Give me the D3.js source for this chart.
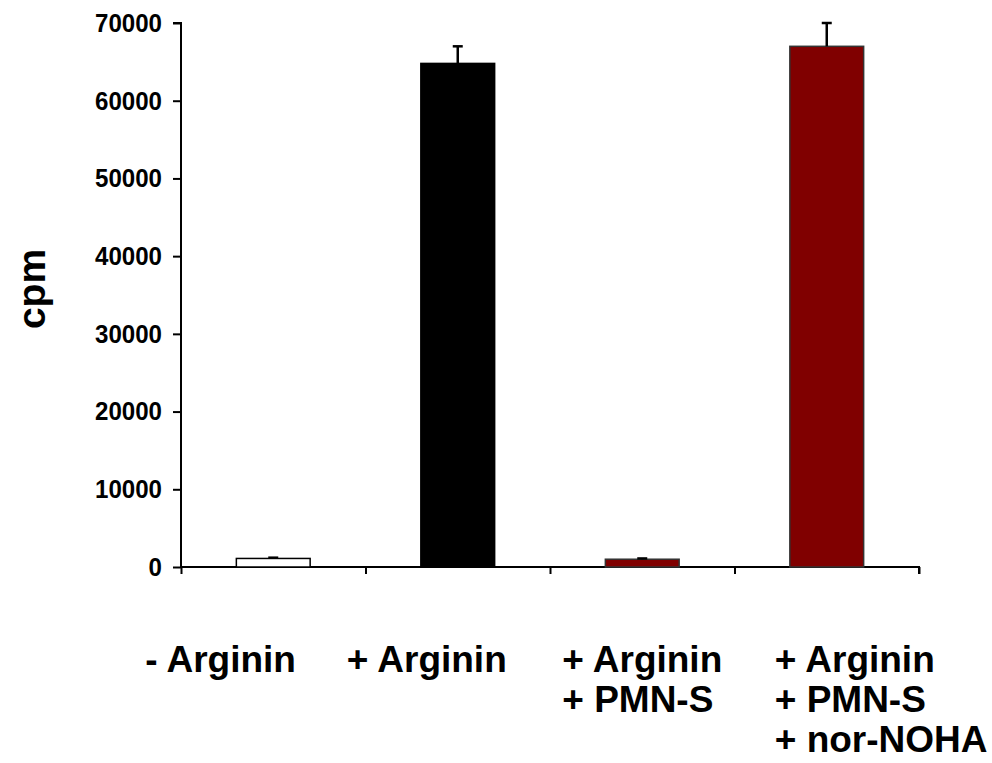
<!DOCTYPE html>
<html>
<head>
<meta charset="utf-8">
<script src="https://cdn.jsdelivr.net/npm/d3@7"></script>
<style>
  body { margin: 0; background: #fff; }
  text { font-family: "Liberation Sans", Arial, sans-serif; font-weight: bold; }
</style>
</head>
<body>
<div id="chart"></div>
<script>
const categories = ["- Arginin", "+ Arginin", "+ Arginin\n+ PMN-S", "+ Arginin\n+ PMN-S\n+ nor-NOHA"];
const values = [1100, 64800, 1000, 67000];
const errors = [100, 2200, 100, 3000];
const barColors = ["#ffffff", "#000000", "#800000", "#800000"];
const yTicks = [0, 10000, 20000, 30000, 40000, 50000, 60000, 70000];

const width = 992, height = 763;

const svg = d3.select("#chart").append("svg")
  .attr("width", width).attr("height", height);

const x = d3.scaleBand().domain(categories).range([181, 919])
  .paddingInner(0.6).paddingOuter(0.3);
const y = d3.scaleLinear().domain([0, 70000]).range([567, 23]);

// y axis
const yAxis = svg.append("g")
  .attr("transform", "translate(181,0)")
  .call(d3.axisLeft(y).tickValues(yTicks).tickFormat(d3.format("d")).tickSize(8).tickPadding(11));
yAxis.select(".domain").attr("stroke-width", 2).attr("d", "M-8,23H0V567");
yAxis.selectAll(".tick line").attr("stroke-width", 2);
yAxis.selectAll(".tick text").attr("font-size", 26).attr("fill", "#000")
  .attr("textLength", d => String(d).length * 13.4).attr("lengthAdjust", "spacingAndGlyphs");

// x axis, ticks at category boundaries
const xb = d3.scaleLinear().domain([0, categories.length]).range([181, 919]);
const xAxis = svg.append("g")
  .attr("transform", "translate(0,567)")
  .call(d3.axisBottom(xb).ticks(categories.length).tickSize(7).tickFormat(""));
xAxis.select(".domain").attr("stroke-width", 2).attr("d", "M181,0H919V7");
xAxis.selectAll(".tick line").attr("stroke-width", 2);

// bars
svg.selectAll("rect.bar")
  .data(categories)
  .join("rect")
  .attr("class", "bar")
  .attr("x", d => x(d))
  .attr("width", x.bandwidth())
  .attr("y", (d, i) => y(values[i]))
  .attr("height", (d, i) => y(0) - y(values[i]))
  .attr("fill", (d, i) => barColors[i])
  .attr("stroke", (d, i) => i < 2 ? "#000" : "#333")
  .attr("stroke-width", 1.5);

// error bars (upper only)
const err = svg.selectAll("g.err")
  .data(categories)
  .join("g")
  .attr("class", "err");
err.append("line")
  .attr("x1", d => x(d) + x.bandwidth() / 2)
  .attr("x2", d => x(d) + x.bandwidth() / 2)
  .attr("y1", (d, i) => y(values[i]))
  .attr("y2", (d, i) => y(values[i] + errors[i]))
  .attr("stroke", "#000").attr("stroke-width", 2.5);
err.append("line")
  .attr("x1", d => x(d) + x.bandwidth() / 2 - 5)
  .attr("x2", d => x(d) + x.bandwidth() / 2 + 5)
  .attr("y1", (d, i) => y(values[i] + errors[i]))
  .attr("y2", (d, i) => y(values[i] + errors[i]))
  .attr("stroke", "#000").attr("stroke-width", 2.5);

// category labels, left aligned blocks
const labelShift = [-128, -111, -80, -52];
svg.selectAll("text.cat")
  .data(categories)
  .join("text")
  .attr("class", "cat")
  .attr("font-size", 37)
  .attr("fill", "#000")
  .each(function (d, i) {
    const t = d3.select(this);
    d.split("\n").forEach((line, j) => {
      t.append("tspan")
        .attr("x", x(d) + x.bandwidth() / 2 + labelShift[i])
        .attr("y", 672 + j * 40)
        .text(line);
    });
  });

// y axis title
svg.append("text")
  .attr("transform", "translate(45,289) rotate(-90)")
  .attr("text-anchor", "middle")
  .attr("font-size", 39)
  .attr("fill", "#000")
  .text("cpm");
</script>
</body>
</html>
